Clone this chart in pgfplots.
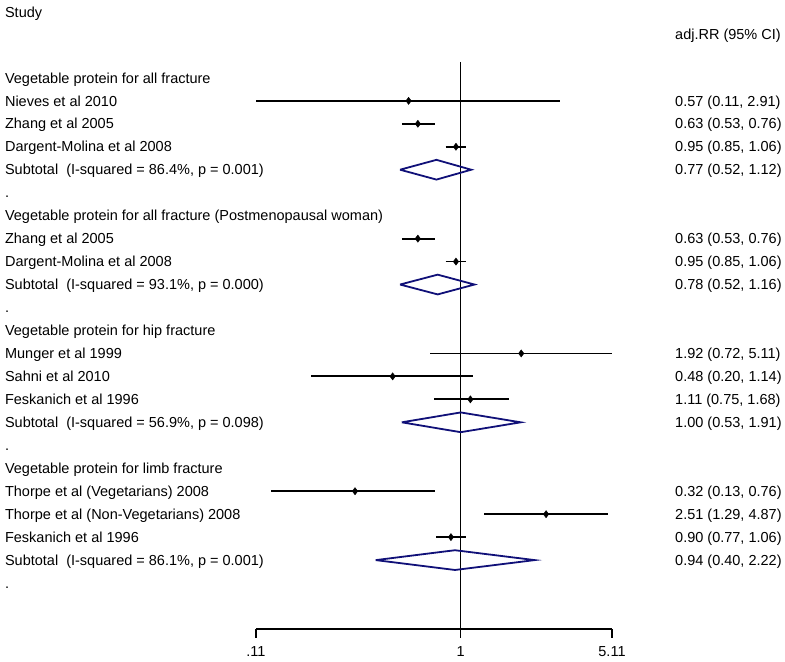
\documentclass[border=0pt]{standalone}
\usepackage{fontspec}
\setmainfont{Liberation Sans}
\usepackage{pgfplots}
\pgfplotsset{compat=1.18}
\definecolor{dnavy}{RGB}{16,16,120}
\begin{document}
\fontsize{14.5bp}{17bp}\selectfont
\begin{tikzpicture}[lab/.style={anchor=base west, yshift=-5.2bp, inner sep=0pt, outer sep=0pt}]
\begin{axis}[
scale only axis,
width=356bp, height=629bp,
xmode=log,
xmin=0.11, xmax=5.11,
ymin=-24, ymax=3.391,
axis lines*=left,
separate axis lines,
x axis line style={-, line width=1.5bp},
y axis line style={draw=none},
ytick=\empty,
xtick={0.11,1,5.11},
xticklabels={.11,1,5.11},
minor xtick={},
tick align=outside,
major tick length=9bp,
tick style={line width=1.5bp, black},
ticklabel style={font=\fontsize{14.5bp}{17bp}\selectfont},
xticklabel shift=4bp,
/pgf/number format/assume math mode=true,
clip=false,
unbounded coords=jump,
]
% canvas size
\path (axis cs:0.00696,3.391) rectangle (axis cs:33.0,-25.39);
% null line
\addplot[black, line width=1.5bp] coordinates {(1,0.7) (1,-24)};
% confidence intervals (lower, upper per row)
\addplot[black, line width=1.8bp] coordinates {
(0.11,-1) (2.91,-1) (nan,nan)
(0.53,-2) (0.76,-2) (nan,nan)
(0.85,-3) (1.06,-3) (nan,nan)
(0.53,-7) (0.76,-7) (nan,nan)
(0.85,-8) (1.06,-8) (nan,nan)
(0.72,-12) (5.11,-12) (nan,nan)
(0.20,-13) (1.14,-13) (nan,nan)
(0.75,-14) (1.68,-14) (nan,nan)
(0.13,-18) (0.76,-18) (nan,nan)
(1.29,-19) (4.87,-19) (nan,nan)
(0.77,-20) (1.06,-20)
};
% point estimates
\addplot[only marks, mark=diamond*, mark size=3.6bp, black] coordinates {
(0.57,-1) (0.63,-2) (0.95,-3)
(0.63,-7) (0.95,-8)
(1.92,-12) (0.48,-13) (1.11,-14)
(0.32,-18) (2.51,-19) (0.90,-20)
};
% subtotal diamonds
\addplot[dnavy, line width=1.8bp, line join=miter] coordinates {
(0.52,-4) (0.77,-3.57) (1.12,-4) (0.77,-4.43) (0.52,-4) (nan,nan)
(0.52,-9) (0.78,-8.57) (1.16,-9) (0.78,-9.43) (0.52,-9) (nan,nan)
(0.53,-15) (1.00,-14.57) (1.91,-15) (1.00,-15.43) (0.53,-15) (nan,nan)
(0.40,-21) (0.94,-20.57) (2.22,-21) (0.94,-21.43) (0.40,-21)
};
% left column
\node[lab] at (axis cs:0.00735,2.87) {Study};
\node[lab] at (axis cs:0.00735,0) {Vegetable protein for all fracture};
\node[lab] at (axis cs:0.00735,-1) {Nieves et al 2010};
\node[lab] at (axis cs:0.00735,-2) {Zhang et al 2005};
\node[lab] at (axis cs:0.00735,-3) {Dargent-Molina et al 2008};
\node[lab] at (axis cs:0.00735,-4) {Subtotal\ \ (I-squared = 86.4\%, p = 0.001)};
\node[lab] at (axis cs:0.00735,-5) {.};
\node[lab] at (axis cs:0.00735,-6) {Vegetable protein for all fracture (Postmenopausal woman)};
\node[lab] at (axis cs:0.00735,-7) {Zhang et al 2005};
\node[lab] at (axis cs:0.00735,-8) {Dargent-Molina et al 2008};
\node[lab] at (axis cs:0.00735,-9) {Subtotal\ \ (I-squared = 93.1\%, p = 0.000)};
\node[lab] at (axis cs:0.00735,-10) {.};
\node[lab] at (axis cs:0.00735,-11) {Vegetable protein for hip fracture};
\node[lab] at (axis cs:0.00735,-12) {Munger et al 1999};
\node[lab] at (axis cs:0.00735,-13) {Sahni et al 2010};
\node[lab] at (axis cs:0.00735,-14) {Feskanich et al 1996};
\node[lab] at (axis cs:0.00735,-15) {Subtotal\ \ (I-squared = 56.9\%, p = 0.098)};
\node[lab] at (axis cs:0.00735,-16) {.};
\node[lab] at (axis cs:0.00735,-17) {Vegetable protein for limb fracture};
\node[lab] at (axis cs:0.00735,-18) {Thorpe et al (Vegetarians) 2008};
\node[lab] at (axis cs:0.00735,-19) {Thorpe et al (Non-Vegetarians) 2008};
\node[lab] at (axis cs:0.00735,-20) {Feskanich et al 1996};
\node[lab] at (axis cs:0.00735,-21) {Subtotal\ \ (I-squared = 86.1\%, p = 0.001)};
\node[lab] at (axis cs:0.00735,-22) {.};
% right column
\node[lab] at (axis cs:10.1,1.91) {adj.RR (95\% CI)};
\node[lab] at (axis cs:10.1,-1) {0.57 (0.11, 2.91)};
\node[lab] at (axis cs:10.1,-2) {0.63 (0.53, 0.76)};
\node[lab] at (axis cs:10.1,-3) {0.95 (0.85, 1.06)};
\node[lab] at (axis cs:10.1,-4) {0.77 (0.52, 1.12)};
\node[lab] at (axis cs:10.1,-7) {0.63 (0.53, 0.76)};
\node[lab] at (axis cs:10.1,-8) {0.95 (0.85, 1.06)};
\node[lab] at (axis cs:10.1,-9) {0.78 (0.52, 1.16)};
\node[lab] at (axis cs:10.1,-12) {1.92 (0.72, 5.11)};
\node[lab] at (axis cs:10.1,-13) {0.48 (0.20, 1.14)};
\node[lab] at (axis cs:10.1,-14) {1.11 (0.75, 1.68)};
\node[lab] at (axis cs:10.1,-15) {1.00 (0.53, 1.91)};
\node[lab] at (axis cs:10.1,-18) {0.32 (0.13, 0.76)};
\node[lab] at (axis cs:10.1,-19) {2.51 (1.29, 4.87)};
\node[lab] at (axis cs:10.1,-20) {0.90 (0.77, 1.06)};
\node[lab] at (axis cs:10.1,-21) {0.94 (0.40, 2.22)};
\end{axis}
\end{tikzpicture}
\end{document}
